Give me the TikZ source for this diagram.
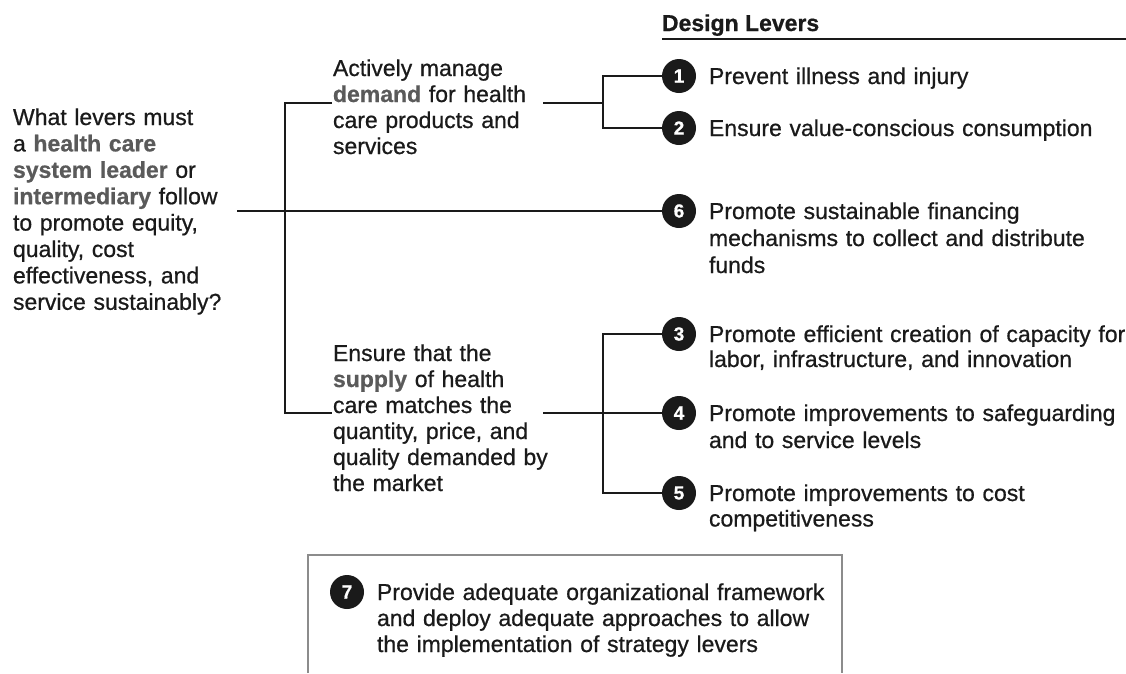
\documentclass[tikz,border=0pt]{standalone}
\usepackage{fontspec}
\setmainfont{Liberation Sans}[FakeBold=0.7]
\definecolor{ink}{HTML}{1A1A1A}
\definecolor{hl}{HTML}{5A5A5A}
\definecolor{boxgray}{HTML}{8C8C8C}
% highlighted key words
\newcommand\keyword[1]{{\bfseries\color{hl}#1}}

\begin{document}
\begin{tikzpicture}[x=1pt,y=-1pt,
  every node/.style={inner sep=0pt, outer sep=0pt, text=ink},
  body/.style={font=\fontsize{23}{26.4}\selectfont, align=left, anchor=base west, text width=240pt},
  lever/.style={font=\fontsize{23}{27}\selectfont, align=left, anchor=base west, text width=520pt},
  badge/.style={circle, fill=ink, minimum size=34pt, text=white, font=\fontsize{19}{19}\selectfont\bfseries},
  wire/.style={draw=ink, line width=1.9pt},
  frame/.style={draw=boxgray, line width=1.3pt},
]
\useasboundingbox (0,0) rectangle (1126,673);

% question and the two demand/supply branches
\node[body] (q) at (13,125) {What levers must\\ a \keyword{health care}\\ \keyword{system leader} or\\ \keyword{intermediary} follow\\ to promote equity,\\ quality, cost\\ effectiveness, and\\ service sustainably?};
\node[body, font=\fontsize{23}{26}\selectfont] (dem) at (333,76) {Actively manage\\ \keyword{demand} for health\\ care products and\\ services};
\node[body, font=\fontsize{23}{26}\selectfont] (sup) at (333,361) {Ensure that the\\ \keyword{supply} of health\\ care matches the\\ quantity, price, and\\ quality demanded by\\ the market};

% header
\node[anchor=base west, font=\fontsize{23}{27}\selectfont\bfseries] (title) at (662,31) {Design Levers};
\coordinate (ulA) at (662,39);
\coordinate (ulB) at (1126,39);
\draw[ink, line width=1.8pt] (ulA) -- (ulB);

% numbered levers
\node[badge] (b1) at (679,76) {1};
\node[badge] (b2) at (679,128) {2};
\node[badge] (b6) at (679,211) {6};
\node[badge] (b3) at (679,334) {3};
\node[badge] (b4) at (679,413) {4};
\node[badge] (b5) at (679,493) {5};
\node[badge] (b7) at (347,592) {7};

\node[lever] (t1) at (709,84) {Prevent illness and injury};
\node[lever] (t2) at (709,136) {Ensure value-conscious consumption};
\node[lever] (t6) at (709,219) {Promote sustainable financing\\ mechanisms to collect and distribute\\ funds};
\node[lever, font=\fontsize{23}{25}\selectfont] (t3) at (709,342) {Promote efficient creation of capacity for\\ labor, infrastructure, and innovation};
\node[lever] (t4) at (709,421) {Promote improvements to safeguarding\\ and to service levels};
\node[lever, font=\fontsize{23}{25.5}\selectfont] (t5) at (709,501) {Promote improvements to cost\\ competitiveness};
\node[lever, font=\fontsize{23}{26}\selectfont] (t7) at (377,600) {Provide adequate organizational framework\\ and deploy adequate approaches to allow\\ the implementation of strategy levers};

% connectors
\coordinate (qout) at (237,211);
\coordinate (lt) at (285,103);
\coordinate (lb) at (285,413);
\coordinate (dIn) at (332,103);
\coordinate (sIn) at (332,413);
\coordinate (dOut) at (543,103);
\coordinate (dj) at (603,103);
\coordinate (sOut) at (543,413);
\coordinate (sj) at (603,413);

\draw[wire] (qout) -- (b6.west);
\draw[wire] (dIn) -- (lt) -- (lb) -- (sIn);
\draw[wire] (dOut) -- (dj);
\draw[wire] (b1.west) -| (dj) |- (b2.west);
\draw[wire] (sOut) -- (b4.west);
\draw[wire] (b3.west) -| (sj) |- (b5.west);

% enabling lever frame, open at the bottom
\coordinate (fBL) at (308,673);
\coordinate (fTL) at (308,555);
\coordinate (fTR) at (842,555);
\coordinate (fBR) at (842,673);
\draw[frame] (fBL) -- (fTL) -- (fTR) -- (fBR);
\end{tikzpicture}
\end{document}
